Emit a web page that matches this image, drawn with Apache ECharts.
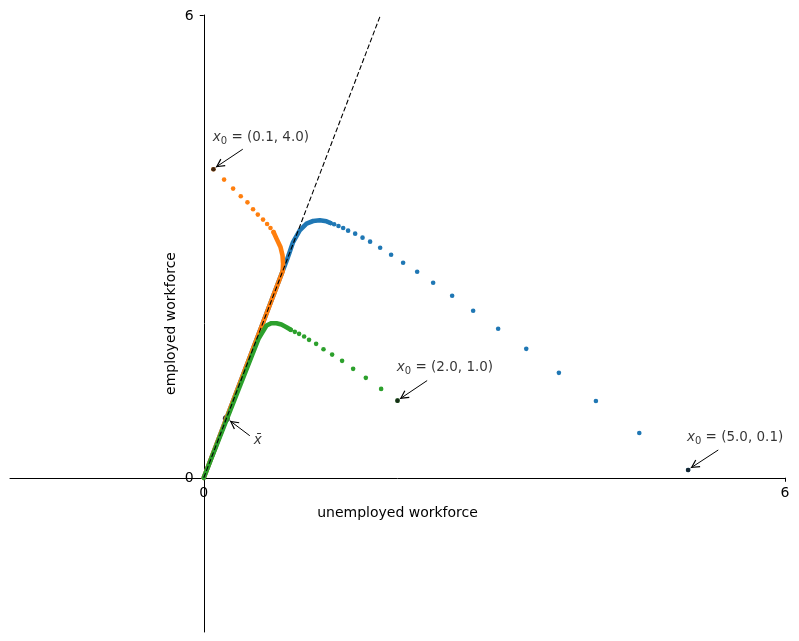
<!DOCTYPE html>
<html><head><meta charset="utf-8">
<script src="https://cdn.jsdelivr.net/npm/echarts@6/dist/echarts.min.js"></script>
<style>html,body{margin:0;padding:0;background:#fff}#c{width:799px;height:641px}</style>
</head><body><div id="c"></div>
<script>
const FONT = 'DejaVu Sans';
const xTicks = [0, 6];
const yTicks = [0, 6];
const xName = 'unemployed workforce';
const yName = 'employed workforce';

// blue trajectory, x0 = (5.0, 0.1)
const blueSparse = [[5.0,0.1],[4.496,0.581],[4.048,0.996],[3.666,1.360],[3.329,1.671],[3.039,1.931],[2.781,2.165],[2.564,2.360],[2.368,2.529],[2.203,2.671],[2.058,2.788],[1.934,2.892],[1.821,2.983],[1.717,3.061],[1.639,3.113],[1.563,3.165],[1.490,3.204],[1.439,3.238],[1.391,3.264],[1.346,3.286],[1.308,3.303]];
const blueDense = [[1.308,3.303],[1.267,3.325],[1.198,3.338],[1.129,3.329],[1.061,3.295],[0.991,3.208],[0.922,3.056],[0.888,2.93],[0.86,2.83],[0.0,0.0]];
// orange trajectory, x0 = (0.1, 4.0)
const orangeSparse = [[0.1,4.0],[0.210,3.866],[0.303,3.749],[0.382,3.649],[0.451,3.571],[0.509,3.481],[0.558,3.412],[0.612,3.347],[0.654,3.290],[0.689,3.238],[0.720,3.186]];
const orangeDense = [[0.720,3.186],[0.751,3.100],[0.792,2.991],[0.813,2.883],[0.819,2.775],[0.815,2.68],[0.0,0.0]];
// green trajectory, x0 = (2.0, 1.0)
const greenSparse = [[2.0,1.0],[1.831,1.152],[1.673,1.295],[1.542,1.412],[1.428,1.516],[1.325,1.597],[1.236,1.666],[1.160,1.736],[1.087,1.788],[1.036,1.831],[0.984,1.866],[0.940,1.892],[0.898,1.918]];
const greenDense = [[0.898,1.918],[0.854,1.952],[0.802,1.987],[0.751,2.004],[0.699,2.004],[0.648,1.974],[0.596,1.866],[0.565,1.80],[0.0,0.0]];
// steady state and eigen-direction line
const xBar = [0.233, 0.767];
const dashLine = [[0, 0], [1.825, 6]];

const XMIN = -2, XMAX = 6, YMIN = -2, YMAX = 6;
const startPts = [blueSparse[0], orangeSparse[0], greenSparse[0]];
function x0Label(p){ return '{i|x}{s|0}{t| = (' + p[0].toFixed(1) + ', ' + p[1].toFixed(1) + ')}'; }
const annotations = [
  {text: x0Label(orangeSparse[0]), at: [0.093, 4.416], tail: [0.403, 4.260], head: [0.124, 4.026]},
  {text: x0Label(greenSparse[0]),  at: [1.993, 1.429], tail: [2.306, 1.260], head: [2.024, 1.022]},
  {text: x0Label(blueSparse[0]),   at: [4.988, 0.519], tail: [5.311, 0.360], head: [5.026, 0.126]},
  {text: '{i|x\u0304}',            at: [0.516, 0.481], tail: [0.475, 0.545], head: [0.269, 0.740]}
];

const C = {blue:'#1f77b4', orange:'#ff7f0e', green:'#2ca02c'};
const DOT = 4.6, TAIL = 4.6;

function dense(data, color){
  return {type:'line', data, showSymbol:false, symbol:'none', silent:true, animation:false,
    lineStyle:{color, width:TAIL, cap:'round', join:'round'}, emphasis:{disabled:true}};
}
function sparse(data, color){
  return {type:'scatter', data, symbol:'circle', symbolSize:DOT, silent:true, animation:false,
    itemStyle:{color, opacity:1}, emphasis:{disabled:true}};
}

const chart = echarts.init(document.getElementById('c'));
const axisCommon = {
  type:'value', splitLine:{show:false},
  axisLine:{show:true, onZero:true, lineStyle:{color:'#000', width:1}},
  axisLabel:{show:false}
};
chart.setOption({
  animation:false,
  backgroundColor:'#fff',
  grid:{left:10, right:14, top:15, bottom:9, containLabel:false, outerBoundsMode:'none'},
  xAxis: Object.assign({}, axisCommon, {min:XMIN, max:XMAX,
    axisTick:{show:true, customValues:xTicks, length:4, lineStyle:{color:'#000'}}}),
  yAxis: Object.assign({}, axisCommon, {min:YMIN, max:YMAX,
    axisTick:{show:true, customValues:yTicks, length:4, lineStyle:{color:'#000'}}}),
  series:[
    dense(blueDense, C.blue), sparse(blueSparse, C.blue),
    dense(orangeDense, C.orange), sparse(orangeSparse, C.orange),
    dense(greenDense, C.green), sparse(greenSparse, C.green),
    {type:'line', data:dashLine, showSymbol:false, symbol:'none', silent:true,
     lineStyle:{color:'#000', width:1.1, type:[5,2.4]}, emphasis:{disabled:true}},
    {type:'scatter', data:startPts, symbolSize:DOT, itemStyle:{color:'#111'}, silent:true},
    {type:'scatter', data:[xBar], symbolSize:7, itemStyle:{color:'#000'}, silent:true},
    {type:'scatter', silent:true, symbolSize:0,
     data: annotations.map(a => ({value:a.at, label:{formatter:a.text}})),
     label:{show:true, position:'right', distance:0, color:'#000',
       rich:{
         i:{fontFamily:FONT, fontStyle:'italic', fontSize:13.5, lineHeight:18, color:'#000'},
         s:{fontFamily:FONT, fontSize:10, lineHeight:10, verticalAlign:'bottom', color:'#000'},
         t:{fontFamily:FONT, fontSize:13.5, lineHeight:18, color:'#000'}
       }},
     markLine:{silent:true, animation:false,
       symbol:['none','path://M5,-9.6 M5,0 L10,9 L8.8,9.6 L5,2.6 L1.2,9.6 L0,9 Z'],
       symbolSize:[9,18],
       label:{show:false}, emphasis:{disabled:true},
       lineStyle:{color:'#000', width:1, type:'solid'},
       data: annotations.map(a => [{coord:a.tail}, {coord:a.head}])}
    }
  ]
});

// tick labels and axis names placed along the zero-crossing spines
const px = (x, y) => chart.convertToPixel({gridIndex:0}, [x, y]);
const txt = (pos, text, align, vAlign, rot) => ({type:'text', x:pos[0], y:pos[1], rotation:rot||0, silent:true,
  style:{text, align, verticalAlign:vAlign, fill:'#000', font:'14px "' + FONT + '"'}});
const g = [];
xTicks.forEach(t => { const p = px(t, 0); g.push(txt([p[0], p[1] + 9], String(t), 'center', 'top')); });
yTicks.forEach(t => { const p = px(0, t); g.push(txt([p[0] - 10, p[1] + 1], String(t), 'right', 'middle')); });
const xn = px((XMIN + XMAX) / 2, 0);
g.push(txt([xn[0], xn[1] + 29], xName, 'center', 'top'));
const yn = px(0, (YMIN + YMAX) / 2);
g.push(txt([yn[0] - 32, yn[1]], yName, 'center', 'middle', Math.PI / 2));
chart.setOption({graphic: g});
</script></body></html>
